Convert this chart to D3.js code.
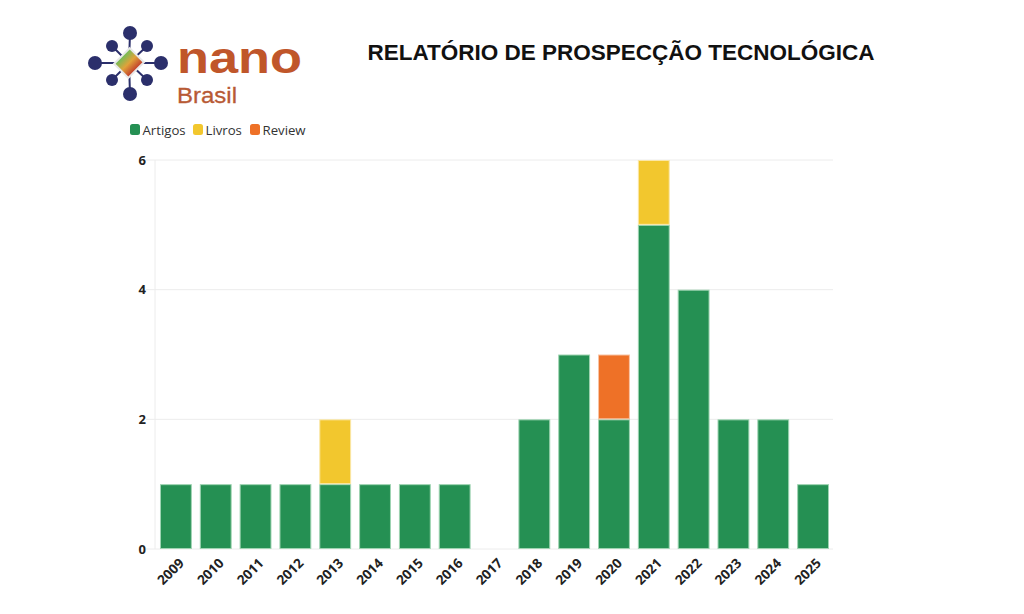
<!DOCTYPE html>
<html><head><meta charset="utf-8">
<script src="https://cdn.jsdelivr.net/npm/d3@7"></script>
<style>body{margin:0;background:#fff;} svg{display:block;}</style>
</head><body>
<svg id="chart" width="1024" height="614"></svg>
<script>
const years = ["2009","2010","2011","2012","2013","2014","2015","2016","2017","2018","2019","2020","2021","2022","2023","2024","2025"];
const artigos = [1,1,1,1,1,1,1,1,0,2,3,2,5,4,2,2,1];
const livros  = [0,0,0,0,1,0,0,0,0,0,0,0,1,0,0,0,0];
const review  = [0,0,0,0,0,0,0,0,0,0,0,1,0,0,0,0,0];
const seriesNames = ["Artigos","Livros","Review"];
const seriesColors = ["#259053","#f2c72e","#ee7127"];
const strokeColors = ["#9fd4b2","#fbe7a6","#f8c3a3"];
const yTicks = [0,2,4,6];

const svg = d3.select("#chart");
const font = "'Open Sans', 'Noto Sans', sans-serif";
const sans = "'Liberation Sans', Arial, sans-serif";

// Title
svg.append("text").attr("x",621).attr("y",60).attr("text-anchor","middle")
  .attr("font-family",sans).attr("font-weight","bold")
  .attr("font-size",22.5).attr("fill","#111").text("RELATÓRIO DE PROSPECÇÃO TECNOLÓGICA");

// Logo
const logo = svg.append("g");
const cx=129, cy=63;
const nodes = [[130,33],[95,63],[161,63],[130,94],[112,46],[147,46],[112,80],[147,80]];
const navy="#2b2f6b";
nodes.forEach(([x,y])=>{
  logo.append("line").attr("x1",cx).attr("y1",cy).attr("x2",x).attr("y2",y).attr("stroke",navy).attr("stroke-width",2);
});
nodes.forEach(([x,y],i)=>{
  logo.append("circle").attr("cx",x).attr("cy",y).attr("r", i<4?7:6).attr("fill",navy);
});
const defs = svg.append("defs");
const grad = defs.append("linearGradient").attr("id","lg").attr("x1","0").attr("y1","0.5").attr("x2","1").attr("y2","0.5");
grad.append("stop").attr("offset","0").attr("stop-color","#6bbf59");
grad.append("stop").attr("offset","0.5").attr("stop-color","#e0a23a");
grad.append("stop").attr("offset","1").attr("stop-color","#c0392b");
logo.append("rect").attr("x",cx-10).attr("y",cy-11).attr("width",20).attr("height",22)
  .attr("fill","url(#lg)").attr("stroke","#e8e8e8").attr("stroke-width",2)
  .attr("transform",`rotate(45 ${cx} ${cy})`);
logo.append("text").attr("x",177).attr("y",73).attr("font-family",sans).attr("font-weight","bold")
  .attr("font-size",44).attr("fill","#c0562a").attr("textLength",125).attr("lengthAdjust","spacingAndGlyphs").text("nano");
logo.append("text").attr("x",177).attr("y",103).attr("font-family",sans).attr("font-weight","normal")
  .attr("font-size",22).attr("fill","#b85a35").attr("stroke","#b85a35").attr("stroke-width",0.3)
  .attr("textLength",60).attr("lengthAdjust","spacingAndGlyphs").text("Brasil");

// Legend
const legend = svg.append("g");
const legX = [130,193,250];
seriesNames.forEach((n,i)=>{
  legend.append("rect").attr("x",legX[i]).attr("y",124).attr("width",10).attr("height",11).attr("rx",2.5)
    .attr("fill",seriesColors[i]);
  legend.append("text").attr("x",legX[i]+12.5).attr("y",134.5).attr("font-family",font)
    .attr("font-size",13.2).attr("fill","#333").text(n);
});

// Scales
const x = d3.scaleBand().domain(years).range([156,833]).paddingInner(0.2).paddingOuter(0.1);
const y = d3.scaleLinear().domain([0,6]).range([549,160]);

// Grid
svg.append("g").selectAll("line").data(yTicks).join("line")
  .attr("x1",146).attr("x2",833).attr("y1",d=>y(d)).attr("y2",d=>y(d))
  .attr("stroke","#ececec").attr("stroke-width",1);
svg.append("line").attr("x1",155).attr("x2",155).attr("y1",160).attr("y2",549).attr("stroke","#ececec");

// Y axis labels
const yAxis = d3.axisLeft(y).tickValues(yTicks).tickFormat(d3.format("d")).tickSize(0).tickPadding(0);
const yg = svg.append("g").attr("transform","translate(146,0)").call(yAxis);
yg.select(".domain").remove();
yg.selectAll("text").attr("font-family",font).attr("font-weight","bold").attr("font-size",13).attr("fill","#222");

// X axis labels
const xAxis = d3.axisBottom(x).tickSize(0).tickPadding(0);
const xg = svg.append("g").attr("transform","translate(0,549)").call(xAxis);
xg.select(".domain").remove();
xg.selectAll("text").attr("font-family",font).attr("font-weight","bold").attr("font-size",13.5).attr("fill","#222")
  .attr("text-anchor","end").attr("dy",0).attr("transform","translate(9,15) rotate(-45)");

// Stack
const data = years.map((yr,i)=>({year:yr, Artigos:artigos[i], Livros:livros[i], Review:review[i]}));
const stack = d3.stack().keys(seriesNames)(data);
stack.forEach((layer,li)=>{
  svg.append("g").selectAll("rect").data(layer.filter(d=>d[1]-d[0]>0)).join("rect")
    .attr("x",d=>x(d.data.year)+0.5).attr("width",x.bandwidth()-1)
    .attr("y",d=>y(d[1])+0.5).attr("height",d=>y(d[0])-y(d[1])-1)
    .attr("fill",seriesColors[li]).attr("stroke",strokeColors[li]).attr("stroke-width",1);
});
</script>
</body></html>
